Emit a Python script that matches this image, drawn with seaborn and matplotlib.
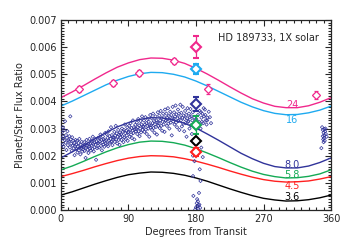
import numpy as np
import pandas as pd
import seaborn as sns
import matplotlib
matplotlib.use("Agg")
import matplotlib.pyplot as plt
from matplotlib.ticker import MultipleLocator, FormatStrFormatter

# model phase curves (flux ratio in units of 1e-3), read every 15 degrees
phase_grid = [0, 15, 30, 45, 60, 75, 90, 105, 120, 135, 150, 165, 180,
              195, 210, 225, 240, 255, 270, 285, 300, 315, 330, 345, 360]
model_24 = [4.14, 4.35, 4.58, 4.82, 5.05, 5.26, 5.42, 5.54, 5.60, 5.59, 5.52, 5.40, 5.22,
            5.01, 4.78, 4.54, 4.31, 4.10, 3.94, 3.82, 3.77, 3.77, 3.84, 3.97, 4.14]
model_16 = [3.83, 4.01, 4.21, 4.41, 4.61, 4.78, 4.92, 5.02, 5.07, 5.06, 5.00, 4.90, 4.75,
            4.57, 4.37, 4.17, 3.97, 3.80, 3.66, 3.56, 3.51, 3.52, 3.58, 3.68, 3.83]
model_80 = [1.92, 2.14, 2.37, 2.62, 2.85, 3.06, 3.22, 3.34, 3.40, 3.39, 3.32, 3.19, 3.02,
            2.80, 2.57, 2.33, 2.09, 1.89, 1.72, 1.60, 1.55, 1.55, 1.62, 1.75, 1.92]
model_58 = [1.48, 1.62, 1.79, 1.97, 2.14, 2.29, 2.41, 2.50, 2.54, 2.53, 2.48, 2.39, 2.26,
            2.10, 1.93, 1.75, 1.58, 1.43, 1.31, 1.23, 1.18, 1.19, 1.24, 1.33, 1.48]
model_45 = [1.23, 1.34, 1.46, 1.59, 1.71, 1.82, 1.91, 1.97, 2.00, 1.99, 1.96, 1.89, 1.80,
            1.69, 1.57, 1.44, 1.32, 1.21, 1.12, 1.06, 1.03, 1.04, 1.07, 1.14, 1.23]
model_36 = [0.55, 0.67, 0.81, 0.95, 1.08, 1.20, 1.30, 1.36, 1.40, 1.39, 1.35, 1.28, 1.18,
            1.06, 0.92, 0.78, 0.65, 0.53, 0.43, 0.37, 0.33, 0.34, 0.38, 0.45, 0.55]
model_labels = ['24', '16', '8.0', '5.8', '4.5', '3.6']
label_flux = [3.88, 3.32, 1.67, 1.29, 0.88, 0.48]

MAGENTA = '#f0288c'
CYAN = '#1eaaf0'
NAVY = '#30339a'
GREEN = '#14aa55'
RED = '#ff2020'
BLACK = '#000000'
model_colors = [MAGENTA, CYAN, NAVY, GREEN, RED, BLACK]

# photometric points (magenta, small)
mag_deg = [24, 69, 104, 151, 196, 340]
mag_flux = [4.46, 4.68, 5.05, 5.49, 4.46, 4.24]
mag_err = [0.12, 0.12, 0.12, 0.1, 0.18, 0.14]

# eclipse points at 180 degrees
ecl_deg = [180, 180, 180, 180, 180, 180]
ecl_flux = [6.00, 5.20, 3.90, 3.13, 2.54, 2.14]
ecl_err = [0.40, 0.18, 0.25, 0.33, 0.08, 0.15]
ecl_colors = [MAGENTA, CYAN, NAVY, GREEN, BLACK, RED]

# 8 micron light curve points
cloud_deg = [
    0.5, 1.2, 1.8, 2.5, 3.1, 3.6, 4.2, 4.9, 5.5, 6.1, 6.8, 7.4, 8.0, 8.7, 9.3, 9.9,
    10.6, 11.2, 11.9, 12.5, 13.1, 13.8, 14.4, 15.0, 15.7, 16.3, 17.0, 17.6, 18.2, 18.9, 19.5,
    20.2, 20.8, 21.5, 22.1, 22.7, 23.4, 24.0, 24.6, 25.3, 25.9, 26.6, 27.2, 27.8, 28.5, 29.1, 29.7,
    30.4, 31.0, 31.6, 32.3, 32.9, 33.5, 34.2, 34.8, 35.5, 36.1, 36.7, 37.4, 38.0, 38.6, 39.3, 39.9,
    40.6, 41.2, 41.9, 42.5, 43.1, 43.8, 44.4, 45.0, 45.7, 46.3, 46.9, 47.6, 48.2, 48.9, 49.5,
    50.1, 50.8, 51.4, 52.0, 52.7, 53.3, 54.0, 54.6, 55.2, 55.9, 56.5, 57.1, 57.8, 58.4, 59.1, 59.7,
    60.3, 61.0, 61.6, 62.2, 62.9, 63.5, 64.2, 64.8, 65.4, 66.1, 66.7, 67.3, 68.0, 68.6, 69.3, 69.9,
    70.5, 71.2, 71.8, 72.4, 73.1, 73.7, 74.3, 75.0, 75.6, 76.3, 76.9, 77.5, 78.2, 78.8, 79.5,
    80.1, 80.7, 81.4, 82.0, 82.6, 83.3, 83.9, 84.5, 85.2, 85.8, 86.5, 87.1, 87.7, 88.4, 89.0, 89.6,
    90.3, 90.9, 91.5, 92.2, 92.8, 93.5, 94.1, 94.7, 95.4, 96.0, 96.6, 97.3, 97.9, 98.6, 99.2, 99.8,
    100.5, 101.1, 101.7, 102.4, 103.0, 103.7, 104.3, 104.9, 105.6, 106.2, 106.8, 107.5, 108.1, 108.8, 109.4,
    110.0, 110.7, 111.3, 111.9, 112.6, 113.2, 113.9, 114.5, 115.1, 115.8, 116.4, 117.0, 117.7, 118.3, 119.0, 119.6,
    120.2, 120.9, 121.5, 122.1, 122.8, 123.4, 124.1, 124.7, 125.3, 126.0, 126.6, 127.2, 127.9, 128.5, 129.2, 129.8,
    130.4, 131.1, 131.7, 132.3, 133.0, 133.6, 134.2, 134.9, 135.5, 136.2, 136.8, 137.4, 138.1, 138.7, 139.4,
    140.0, 140.6, 141.3, 141.9, 142.6, 143.2, 143.8, 144.5, 145.1, 145.7, 146.4, 147.0, 147.7, 148.3, 148.9, 149.6,
    150.2, 150.8, 151.5, 152.1, 152.8, 153.4, 154.0, 154.7, 155.3, 156.0, 156.6, 157.2, 157.9, 158.5, 159.1,
    159.8, 160.4, 161.1, 161.7, 162.3, 163.0, 163.6, 164.3, 164.9, 165.5, 166.2, 166.8, 167.4, 168.1, 168.7, 169.4,
    170.0, 170.6, 171.3, 171.9, 172.6, 173.2, 173.8, 174.5, 175.1, 175.7, 176.4, 177.0, 177.7, 178.3, 178.9, 179.6,
    180.3, 181.5, 182.6, 183.8, 184.9, 186.1, 187.2, 188.4, 189.5, 190.7, 191.8, 193.0, 194.1, 195.3,
    186.5, 188.0, 190.2, 192.5, 194.8, 197.0, 198.5, 200.0,
    176.0, 185.0, 186.0, 176.5, 184.0, 181.0, 182.0, 183.0, 180.0, 184.5, 182.5, 179.0,
    185.5, 181.5, 183.5, 178.0, 183.0, 187.0, 176.0, 189.0,
    348.0, 349.0, 350.0, 351.0, 350.5, 352.0, 349.5, 351.5, 353.0, 350.0, 347.0, 352.5,
    354.0, 349.0, 351.0]
cloud_flux = [
    2.62, 2.85, 2.41, 3.05, 2.70, 2.33, 2.95, 2.58, 3.27, 2.48, 2.76, 2.21, 2.66, 2.90, 2.39, 2.57,
    2.52, 2.72, 2.31, 3.45, 2.60, 2.44, 2.18, 2.68, 2.38, 2.55, 2.27, 2.47, 2.02, 2.36, 2.58,
    2.41, 2.25, 2.55, 2.12, 2.33, 2.47, 2.20, 2.62, 2.30, 2.05, 2.40, 2.28, 2.51, 2.15, 2.37, 2.24,
    2.32, 2.50, 2.18, 2.41, 1.92, 2.29, 2.58, 2.36, 2.22, 2.45, 2.10, 2.34, 2.62, 2.27, 2.43, 2.19,
    2.38, 2.55, 2.25, 2.70, 2.44, 2.16, 2.49, 2.31, 2.62, 2.40, 1.85, 2.53, 2.28, 2.46, 2.66,
    2.47, 2.30, 2.65, 2.52, 2.78, 2.36, 2.58, 2.20, 2.49, 2.71, 2.41, 2.60, 2.33, 2.55, 2.84, 2.45,
    2.57, 2.80, 2.42, 2.66, 2.35, 2.90, 2.55, 2.72, 2.48, 2.62, 3.05, 2.51, 2.76, 2.39, 2.68, 2.60,
    2.66, 2.88, 2.51, 2.74, 3.10, 2.60, 2.82, 2.45, 2.70, 2.95, 2.58, 2.77, 2.40, 2.86, 2.68,
    2.79, 2.58, 3.00, 2.72, 2.88, 2.50, 2.95, 2.67, 3.15, 2.83, 2.62, 2.92, 2.75, 3.05, 2.55, 2.86,
    2.88, 3.10, 2.70, 2.95, 3.20, 2.78, 3.02, 2.65, 2.92, 3.30, 2.84, 3.05, 2.60, 2.98, 3.14, 2.90,
    2.98, 3.22, 2.80, 3.05, 3.35, 2.90, 3.12, 2.72, 3.00, 3.28, 2.86, 3.15, 3.45, 2.95, 3.08,
    3.05, 3.30, 2.88, 3.15, 3.42, 2.96, 3.20, 2.80, 3.10, 3.36, 3.00, 3.25, 2.70, 3.12, 3.50, 3.04,
    3.12, 3.38, 2.95, 3.20, 3.55, 3.02, 3.28, 2.85, 3.16, 3.45, 3.06, 3.30, 2.78, 3.22, 3.60, 3.10,
    3.20, 3.48, 3.02, 3.30, 3.65, 3.10, 3.38, 2.92, 3.25, 3.55, 3.15, 3.42, 2.88, 3.70, 3.28,
    3.30, 3.55, 3.10, 3.40, 3.75, 3.18, 3.46, 3.00, 3.32, 3.62, 3.22, 3.50, 2.75, 3.38, 3.80, 3.26,
    3.36, 3.60, 3.15, 3.45, 3.85, 3.22, 3.52, 3.05, 3.38, 3.70, 3.28, 3.55, 2.95, 3.42, 3.88,
    3.30, 3.58, 3.08, 3.40, 3.80, 3.18, 3.48, 2.90, 3.35, 3.65, 3.20, 3.50, 2.70, 3.38, 3.75, 3.25,
    3.28, 3.55, 3.00, 3.42, 3.72, 3.12, 3.45, 2.80, 3.30, 3.60, 3.15, 2.60, 3.40, 3.05, 2.45, 3.22,
    3.35, 3.10, 3.50, 3.25, 3.65, 3.00, 3.40, 3.55, 3.20, 3.45, 3.70, 3.30, 3.15, 3.40,
    3.60, 3.25, 3.75, 3.50, 3.30, 3.62, 3.42, 3.20,
    1.25, 1.50, 1.07, 0.52, 0.63, 0.25, 0.15, 0.05, 0.10, 0.20, 0.32, 0.02,
    0.08, 0.40, 0.18, 1.80, 2.10, 2.30, 2.00, 1.95,
    3.05, 2.95, 2.85, 2.75, 2.65, 2.90, 2.60, 2.55, 2.80, 2.50, 2.28, 3.00,
    2.70, 2.72, 2.98]

SCALE = 1e-3

sns.set_style("ticks")
plt.rcParams['font.family'] = ['DejaVu Sans']
plt.rcParams['xtick.direction'] = 'in'
plt.rcParams['ytick.direction'] = 'in'

fig = plt.figure(figsize=(3.5, 2.5), dpi=100)
ax = fig.add_axes([0.174, 0.16, 0.772, 0.76])

models = [model_24, model_16, model_80, model_58, model_45, model_36]
for vals, col in zip(models, model_colors):
    sns.lineplot(x=phase_grid, y=np.array(vals) * SCALE, color=col, lw=1.0, ax=ax)

cloud = pd.DataFrame({'deg': cloud_deg, 'flux': np.array(cloud_flux) * SCALE})
sns.scatterplot(data=cloud, x='deg', y='flux', marker='D', s=3, facecolor='none',
                edgecolor=NAVY, linewidth=0.5, ax=ax, zorder=3)

ax.errorbar(mag_deg, np.array(mag_flux) * SCALE, yerr=np.array(mag_err) * SCALE,
            fmt='D', ms=3.8, mfc='white', mec=MAGENTA, mew=0.9, ecolor=MAGENTA,
            elinewidth=0.8, capsize=1.5, capthick=0.8, zorder=4)

for d, f, e, col in zip(ecl_deg, ecl_flux, ecl_err, ecl_colors):
    ax.errorbar([d], [f * SCALE], yerr=[e * SCALE], fmt='D', ms=5.5, mfc='white',
                mec=col, mew=1.5, ecolor=col, elinewidth=0.9, capsize=2,
                capthick=0.9, zorder=5)

for lab, ly, col in zip(model_labels, label_flux, model_colors):
    ax.text(308, ly * SCALE, lab, color=col, fontsize=7, ha='center', va='center')

ax.text(344, 0.00634, 'HD 189733, 1X solar', fontsize=7, ha='right', va='center')

ax.set_xlim(0, 360)
ax.set_ylim(0, 0.007)
ax.xaxis.set_major_locator(MultipleLocator(90))
ax.xaxis.set_minor_locator(MultipleLocator(10))
ax.yaxis.set_major_locator(MultipleLocator(0.001))
ax.yaxis.set_minor_locator(MultipleLocator(0.0001))
ax.yaxis.set_major_formatter(FormatStrFormatter('%.3f'))
ax.tick_params(which='both', top=True, right=True, direction='in', width=0.8,
               labelsize=7, pad=3)
ax.tick_params(which='major', length=4)
ax.tick_params(which='minor', length=2)
for sp in ax.spines.values():
    sp.set_linewidth(0.9)
    sp.set_visible(True)

ax.set_xlabel('Degrees from Transit', fontsize=7, labelpad=2)
ax.set_ylabel('Planet/Star Flux Ratio', fontsize=7, labelpad=3)

fig.savefig('out.png', dpi=100)
